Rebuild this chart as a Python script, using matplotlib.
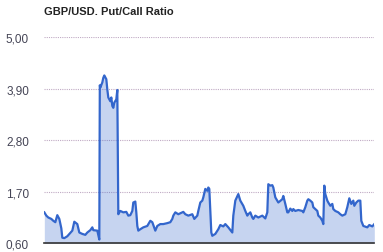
import numpy as np
import matplotlib
matplotlib.use("Agg")
import matplotlib.pyplot as plt

title = "GBP/USD. Put/Call Ratio"
y_ticks = [0.60, 1.70, 2.80, 3.90, 5.00]
y_labels = ["0,60", "1,70", "2,80", "3,90", "5,00"]

# sample position (trading period index) and put/call ratio
x = [0, 2, 4, 6, 7, 9, 11, 13, 15, 17, 18, 20, 23, 26, 28, 30, 33, 35, 38, 41,
     43, 46, 48, 49, 53, 55, 55.5, 56, 58, 59, 60, 62, 63, 64, 66, 67, 68, 69, 70,
     72, 73, 74, 75, 76, 79, 82, 84, 86, 88, 89, 91, 92, 93, 94, 96, 99, 103, 106,
     108, 111, 113, 116, 119, 123, 126, 128, 129, 131, 134, 138, 139, 141, 144, 148,
     150, 153, 154, 156, 158, 159, 161, 163, 164, 165, 167, 168, 171, 174, 176, 179,
     181, 184, 188, 189, 191, 194, 196, 199, 201, 203, 204, 206, 208, 209, 211, 214,
     218, 221, 223, 224, 226, 228, 229, 231, 234, 238, 239, 241, 243, 244, 246, 248,
     249, 251, 254, 258, 259, 261, 263, 264, 266, 268, 269, 273, 274, 276, 278, 279,
     280, 281, 283, 284, 286, 288, 289, 291, 294, 296, 298, 301, 303, 304, 305, 307,
     309, 310, 312, 314, 316, 317, 319, 323, 325, 328, 330]
ratio = [1.26, 1.19, 1.15, 1.13, 1.12, 1.08, 1.05, 1.20, 1.12, 0.92, 0.72, 0.71, 0.75,
         0.82, 0.87, 1.06, 1.01, 0.83, 0.80, 0.78, 0.83, 0.88, 0.94, 0.88, 0.87, 0.68,
         3.97, 3.92, 4.03, 4.13, 4.18, 4.10, 3.88, 3.71, 3.63, 3.71, 3.53, 3.49, 3.60,
         3.67, 3.87, 1.22, 1.26, 1.29, 1.26, 1.27, 1.19, 1.20, 1.29, 1.47, 1.49, 1.26,
         0.97, 0.87, 0.90, 0.94, 0.97, 1.08, 1.05, 0.87, 0.97, 1.01, 1.01, 1.03, 1.05,
         1.12, 1.19, 1.26, 1.22, 1.26, 1.27, 1.22, 1.19, 1.22, 1.12, 1.19, 1.29, 1.47,
         1.51, 1.58, 1.76, 1.72, 1.79, 1.76, 0.83, 0.76, 0.80, 0.90, 0.99, 0.96, 1.01,
         0.94, 0.83, 1.19, 1.51, 1.65, 1.51, 1.40, 1.29, 1.19, 1.22, 1.26, 1.15, 1.12,
         1.19, 1.15, 1.19, 1.13, 1.26, 1.86, 1.83, 1.84, 1.79, 1.58, 1.47, 1.54, 1.61,
         1.44, 1.26, 1.26, 1.34, 1.29, 1.33, 1.29, 1.31, 1.29, 1.26, 1.37, 1.51, 1.54,
         1.51, 1.47, 1.37, 1.29, 1.19, 1.15, 1.08, 1.01, 1.83, 1.65, 1.51, 1.47, 1.40,
         1.44, 1.33, 1.29, 1.26, 1.22, 1.19, 1.22, 1.37, 1.47, 1.56, 1.44, 1.51, 1.40,
         1.47, 1.51, 1.51, 1.08, 0.97, 0.94, 0.99, 0.96, 1.01]

plt.rcParams['font.family'] = ['Liberation Sans', 'DejaVu Sans']

fig = plt.figure(figsize=(3.83, 2.53), dpi=100)
ax = fig.add_axes([0.1157, 0.0344, 0.8616, 0.8154])

line_color = "#3366cc"
ax.fill_between(x, ratio, 0.6, color=line_color, alpha=0.28, linewidth=0, zorder=2)
ax.plot(x, ratio, color=line_color, linewidth=1.6, zorder=3)

ax.set_xlim(0, 330)
ax.set_ylim(0.6, 5.0)
ax.set_yticks(y_ticks)
ax.set_yticklabels(y_labels, fontsize=8.5, color="#444455")
ax.set_xticks([])
ax.tick_params(axis='y', length=0, pad=11)

for t in y_ticks[1:]:
    ax.axhline(t, color="#c0aac4", linewidth=0.8, linestyle=(0, (1, 1)), zorder=1)

for s in ['top', 'right', 'left']:
    ax.spines[s].set_visible(False)
ax.spines['bottom'].set_color("#333333")
ax.spines['bottom'].set_linewidth(1.2)
ax.spines['bottom'].set_zorder(4)

fig.text(44.3 / 383, 1 - 12 / 253, title, fontsize=8, fontweight='bold',
         color="#222222", ha='left', va='center')

fig.savefig("out.png", dpi=100)
